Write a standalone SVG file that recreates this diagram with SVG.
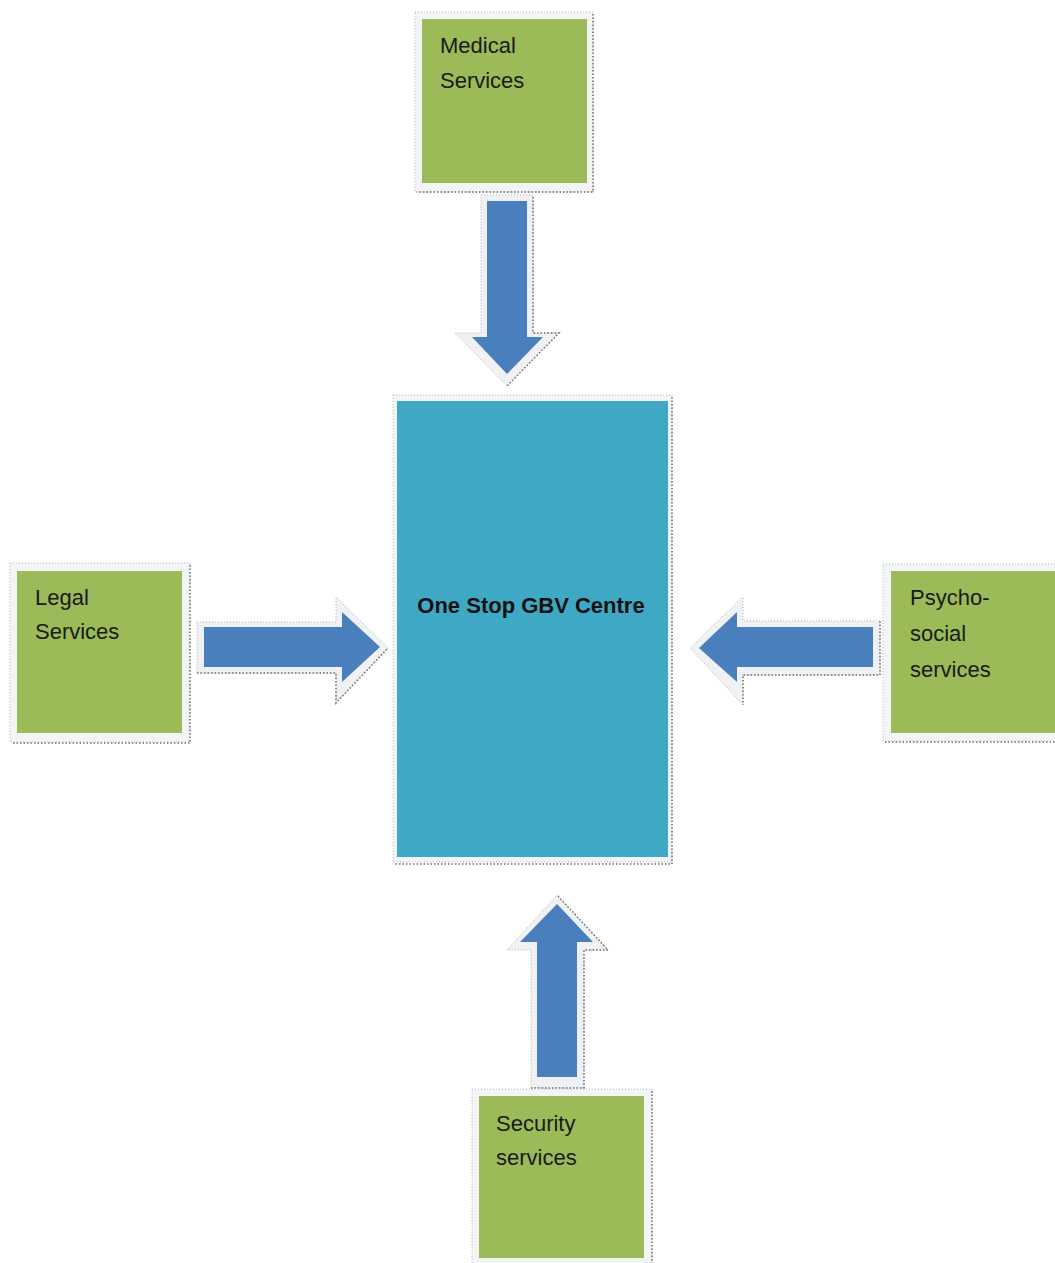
<svg xmlns="http://www.w3.org/2000/svg" width="1055" height="1263" viewBox="0 0 1055 1263">
<style>
.frame{fill:#f3f4f6;stroke:#b8b8b8;stroke-width:1;stroke-dasharray:1 2}
.shadow{fill:none;stroke:#707070;stroke-width:1.5;stroke-dasharray:1.5 2}
.green{fill:#9bbb59}
.teal{fill:#3fa9c5}
.aout{fill:#f0f1f4;stroke:#b0b0b0;stroke-width:1;stroke-dasharray:1 2}
.ain{fill:#4a7fbd}
.lbl{font-family:"Liberation Sans",Arial,sans-serif;font-size:22px;fill:#1a1a1a}
.ctr{font-family:"Liberation Sans",Arial,sans-serif;font-size:22px;font-weight:bold;fill:#111}
</style>
<rect width="1055" height="1263" fill="#ffffff"/>
<g id="connectors">
  <g id="arrow-medical">
    <polygon class="aout" points="481,195 533,195 533,333 559,333 507,386 455,333 481,333"/>
    <polyline class="shadow" points="533,197 533,333 559,333 507,386"/>
    <polygon class="ain" points="487,201 527,201 527,337 543,337 507,374 472,337 487,337"/>
  </g>
  <g id="arrow-legal">
    <polygon class="aout" points="197,622 336,622 336,597 388,648 336,703 336,673 197,673"/>
    <polyline class="shadow" points="197,673 336,673 336,703 388,648"/>
    <polygon class="ain" points="204,627 342,627 342,612 380,647 342,682 342,667 204,667"/>
  </g>
  <g id="arrow-psycho">
    <polygon class="aout" points="880,621 743,621 743,597 690,648 743,705 743,675 880,675"/>
    <polyline class="shadow" points="880,621 880,675 743,675 743,705"/>
    <polygon class="ain" points="873,627 737,627 737,612 699,648 737,682 737,667 873,667"/>
  </g>
  <g id="arrow-security">
    <polygon class="aout" points="531,1088 584,1088 584,950 608,950 557,895 507,950 531,950"/>
    <polyline class="shadow" points="531,1088 584,1088 584,950 608,950 557,895"/>
    <polygon class="ain" points="537,1077 577,1077 577,942 593,942 557,904 520,942 537,942"/>
  </g>
</g>
<g id="node-medical">
  <rect class="frame" x="415" y="12" width="178" height="180"/>
  <polyline class="shadow" points="593,14 593,192 417,192"/>
  <rect class="green" x="422" y="19" width="165" height="164"/>
  <text class="lbl" x="440" y="53">Medical</text>
  <text class="lbl" x="440" y="88">Services</text>
</g>
<g id="node-centre">
  <rect class="frame" x="393" y="395" width="279" height="467"/>
  <polyline class="shadow" points="672,397 672,864 395,864"/>
  <rect class="teal" x="397" y="401" width="271" height="456"/>
  <text class="ctr" x="531" y="613" text-anchor="middle">One Stop GBV Centre</text>
</g>
<g id="node-legal">
  <rect class="frame" x="10" y="563" width="180" height="179"/>
  <polyline class="shadow" points="190,565 190,743 12,743"/>
  <rect class="green" x="17" y="571" width="165" height="162"/>
  <text class="lbl" x="35" y="605">Legal</text>
  <text class="lbl" x="35" y="639">Services</text>
</g>
<g id="node-psycho">
  <rect class="frame" x="883" y="564" width="180" height="177"/>
  <polyline class="shadow" points="885,742 1055,742"/>
  <rect class="green" x="891" y="571" width="170" height="162"/>
  <text class="lbl" x="910" y="605">Psycho-</text>
  <text class="lbl" x="910" y="641">social</text>
  <text class="lbl" x="910" y="677">services</text>
</g>
<g id="node-security">
  <rect class="frame" x="472" y="1089" width="180" height="180"/>
  <polyline class="shadow" points="652,1091 652,1263"/>
  <rect class="green" x="479" y="1096" width="165" height="162"/>
  <text class="lbl" x="496" y="1131">Security</text>
  <text class="lbl" x="496" y="1165">services</text>
</g>
</svg>
